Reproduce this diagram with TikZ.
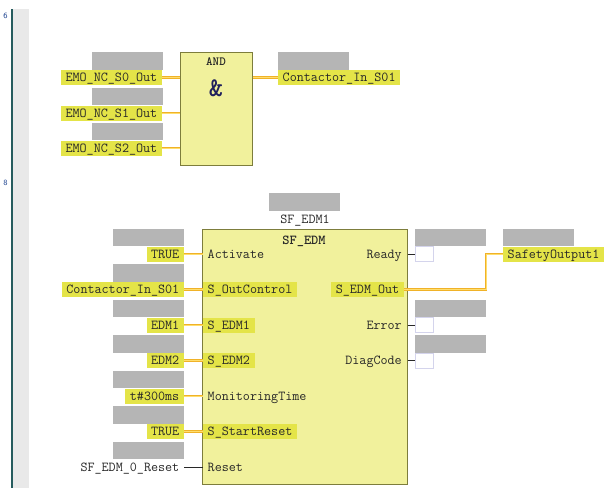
\documentclass[tikz,border=0pt]{standalone}
\usetikzlibrary{positioning}

\definecolor{varyellow}{RGB}{228,228,72}
\definecolor{fbfill}{RGB}{241,241,156}
\definecolor{fbborder}{RGB}{125,125,60}
\definecolor{slotgray}{RGB}{181,181,181}
\definecolor{wireout}{RGB}{240,178,40}
\definecolor{wirein}{RGB}{255,222,110}
\definecolor{pinframe}{RGB}{212,212,236}
\definecolor{sideline}{RGB}{38,92,94}
\definecolor{sidegray}{RGB}{233,233,233}
\definecolor{ampnavy}{RGB}{32,32,92}
\definecolor{codeink}{RGB}{40,40,40}

\newcommand{\codefont}{\ttfamily\fontsize{13.7}{15}\selectfont}

\begin{document}
\begin{tikzpicture}[
    x=1pt, y=-1pt,
    varbox/.style={fill=varyellow, font=\codefont, text=codeink, inner xsep=4.5pt, inner ysep=0pt,
                   minimum height=15pt, text height=10pt, text depth=2pt},
    pinplain/.style={varbox, fill=none},
    pinhl/.style={varbox},
    slot/.style={fill=slotgray, minimum width=71pt, minimum height=17.5pt, inner sep=0pt},
    pinslot/.style={draw=pinframe, fill=white, line width=0.8pt, minimum width=18pt, minimum height=15pt, inner sep=0pt},
    fblock/.style={draw=fbborder, fill=fbfill, line width=1pt, inner sep=0pt},
    wire/.style={draw=wireout, line width=0.9pt, double=wirein, double distance=0.9pt},
    plainwire/.style={draw=codeink, line width=0.8pt},
    netnum/.style={font=\sffamily\fontsize{8}{8}\selectfont, text=sideline!70!blue}
]
    \useasboundingbox (0,0) rectangle (606,488);

    % --- SIDE BAR WITH NETWORK NUMBERS ---
    \fill[sidegray] (12,9) rectangle (29,488);
    \draw[sideline, line width=2pt] (12,9) -- (12,488);
    \node[netnum] (net6) at (5.5,16) {6};
    \node[netnum] (net8) at (5.5,183) {8};

    % --- NETWORK 6: AND GATE ---
    \node[fblock, minimum width=72pt, minimum height=113pt] (andgate) at (216,108.5) {};
    \node[font=\ttfamily\bfseries\fontsize{12.5}{12.5}\selectfont, text=codeink] (andname) at (216,62) {AND};
    \node[font=\ttfamily\bfseries\fontsize{27}{27}\selectfont, text=ampnavy] (andsym) at (216,88.5) {\&};

    \foreach \i/\y in {0/77.5, 1/113, 2/148} {
        \node[slot] (gemo-\i) at (127,\y-16.5) {};
        \node[varbox, anchor=east] (emo-\i) at (162,\y) {EMO\_NC\_S\i\_Out};
        \draw[wire] (emo-\i.east) -- (andgate.west |- emo-\i.east);
    }

    \node[slot] (gcis) at (313.5,61) {};
    \node[varbox, anchor=west] (cis) at (278,77.5) {Contactor\_In\_S01};
    \draw[wire] (andgate.east |- cis.west) -- (cis.west);

    % --- NETWORK 8: SF_EDM BLOCK ---
    \node[slot] (ginst) at (304.5,202) {};
    \node[pinplain] (instname) at (305,219) {SF\_EDM1};
    \node[fblock, minimum width=205pt, minimum height=255pt] (edm) at (304.5,356.5) {};
    \node[pinplain, font=\codefont\bfseries] (edmname) at (304,240) {SF\_EDM};

    % inputs (row y = 218.5 + 35.5*i)
    \foreach \i/\val/\pin/\sty in {1/TRUE/Activate/pinplain,
                                   2/Contactor\_In\_S01/S\_OutControl/pinhl,
                                   3/EDM1/S\_EDM1/pinhl,
                                   4/EDM2/S\_EDM2/pinhl,
                                   5/t\#300ms/MonitoringTime/pinplain,
                                   6/TRUE/S\_StartReset/pinhl} {
        \node[slot] (gin-\i) at (148.5,{202+35.5*\i}) {};
        \node[varbox, anchor=east] (in-\i) at (184,{218.5+35.5*\i}) {\val};
        \node[\sty, anchor=west] (pin-\i) at (203,{218.5+35.5*\i}) {\pin};
        \draw[wire] (in-\i.east) -- (pin-\i.west);
    }
    \node[slot] (gin-7) at (148.5,450.5) {};
    \node[pinplain, anchor=east] (in-7) at (184,467) {SF\_EDM\_0\_Reset};
    \node[pinplain, anchor=west] (pin-7) at (203,467) {Reset};
    \draw[plainwire] (in-7.east) -- (pin-7.west);

    % outputs
    \foreach \j/\pin in {1/Ready, 3/Error, 4/DiagCode} {
        \node[pinplain, anchor=east] (out-\j) at (406.5,{218.5+35.5*\j}) {\pin};
        \node[slot] (gout-\j) at (450.5,{202+35.5*\j}) {};
        \node[pinslot] (ov-\j) at (424,{218.5+35.5*\j}) {};
        \draw[plainwire] (edm.east |- out-\j) -- (ov-\j.west);
    }
    \node[pinhl, anchor=east] (out-2) at (404,289.5) {S\_EDM\_Out};

    \node[slot] (gsafe) at (538.5,237.5) {};
    \node[varbox, anchor=west] (safe) at (503,254) {SafetyOutput1};
    \coordinate (edmbend) at (486,289.5);
    \draw[wire] (out-2.east) -- (edmbend) |- (safe.west);

\end{tikzpicture}
\end{document}
